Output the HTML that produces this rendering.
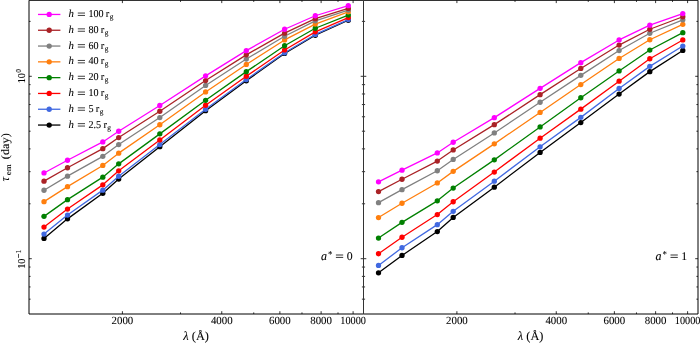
<!DOCTYPE html><html><head><meta charset="utf-8"><style>
html,body{margin:0;padding:0;background:#fff;width:700px;height:343px;overflow:hidden}
svg{display:block;will-change:transform}
text{font-family:"Liberation Serif",serif;fill:#000;stroke:#000;stroke-width:0.08px;text-rendering:geometricPrecision}
.tl{font-size:10.5px}
.xl{font-size:11.5px}
.it{font-style:italic}
.lg{font-size:11px}
</style></head><body>
<svg width="700" height="343" viewBox="0 0 700 343">
<rect width="700" height="343" fill="#fff"/>
<path d="M44 238.45 L67.5 218.85 L102.8 193.25 L118.7 179.05 L159.8 146.65 L205.6 110.65 L246.3 80.75 L284.6 53.45 L315.3 35.25 L348.3 20.25" fill="none" stroke="#000000" stroke-width="1.3" stroke-linejoin="round"/>
<circle cx="44" cy="238.45" r="2.65" fill="#000000"/>
<circle cx="67.5" cy="218.85" r="2.65" fill="#000000"/>
<circle cx="102.8" cy="193.25" r="2.65" fill="#000000"/>
<circle cx="118.7" cy="179.05" r="2.65" fill="#000000"/>
<circle cx="159.8" cy="146.65" r="2.65" fill="#000000"/>
<circle cx="205.6" cy="110.65" r="2.65" fill="#000000"/>
<circle cx="246.3" cy="80.75" r="2.65" fill="#000000"/>
<circle cx="284.6" cy="53.45" r="2.65" fill="#000000"/>
<circle cx="315.3" cy="35.25" r="2.65" fill="#000000"/>
<circle cx="348.3" cy="20.25" r="2.65" fill="#000000"/>
<path d="M44 234.05 L67.5 215.05 L102.8 190.15 L118.7 176.25 L159.8 144.55 L205.6 109.25 L246.3 79.55 L284.6 52.75 L315.3 34.45 L348.3 19.55" fill="none" stroke="#4169e1" stroke-width="1.3" stroke-linejoin="round"/>
<circle cx="44" cy="234.05" r="2.65" fill="#4169e1"/>
<circle cx="67.5" cy="215.05" r="2.65" fill="#4169e1"/>
<circle cx="102.8" cy="190.15" r="2.65" fill="#4169e1"/>
<circle cx="118.7" cy="176.25" r="2.65" fill="#4169e1"/>
<circle cx="159.8" cy="144.55" r="2.65" fill="#4169e1"/>
<circle cx="205.6" cy="109.25" r="2.65" fill="#4169e1"/>
<circle cx="246.3" cy="79.55" r="2.65" fill="#4169e1"/>
<circle cx="284.6" cy="52.75" r="2.65" fill="#4169e1"/>
<circle cx="315.3" cy="34.45" r="2.65" fill="#4169e1"/>
<circle cx="348.3" cy="19.55" r="2.65" fill="#4169e1"/>
<path d="M44 227.05 L67.5 209.05 L102.8 184.85 L118.7 170.85 L159.8 139.95 L205.6 105.25 L246.3 76.25 L284.6 49.95 L315.3 31.85 L348.3 17.55" fill="none" stroke="#ff0000" stroke-width="1.3" stroke-linejoin="round"/>
<circle cx="44" cy="227.05" r="2.65" fill="#ff0000"/>
<circle cx="67.5" cy="209.05" r="2.65" fill="#ff0000"/>
<circle cx="102.8" cy="184.85" r="2.65" fill="#ff0000"/>
<circle cx="118.7" cy="170.85" r="2.65" fill="#ff0000"/>
<circle cx="159.8" cy="139.95" r="2.65" fill="#ff0000"/>
<circle cx="205.6" cy="105.25" r="2.65" fill="#ff0000"/>
<circle cx="246.3" cy="76.25" r="2.65" fill="#ff0000"/>
<circle cx="284.6" cy="49.95" r="2.65" fill="#ff0000"/>
<circle cx="315.3" cy="31.85" r="2.65" fill="#ff0000"/>
<circle cx="348.3" cy="17.55" r="2.65" fill="#ff0000"/>
<path d="M44 216.35 L67.5 199.65 L102.8 177.15 L118.7 163.85 L159.8 133.85 L205.6 100.35 L246.3 71.65 L284.6 45.75 L315.3 28.25 L348.3 15.05" fill="none" stroke="#008000" stroke-width="1.3" stroke-linejoin="round"/>
<circle cx="44" cy="216.35" r="2.65" fill="#008000"/>
<circle cx="67.5" cy="199.65" r="2.65" fill="#008000"/>
<circle cx="102.8" cy="177.15" r="2.65" fill="#008000"/>
<circle cx="118.7" cy="163.85" r="2.65" fill="#008000"/>
<circle cx="159.8" cy="133.85" r="2.65" fill="#008000"/>
<circle cx="205.6" cy="100.35" r="2.65" fill="#008000"/>
<circle cx="246.3" cy="71.65" r="2.65" fill="#008000"/>
<circle cx="284.6" cy="45.75" r="2.65" fill="#008000"/>
<circle cx="315.3" cy="28.25" r="2.65" fill="#008000"/>
<circle cx="348.3" cy="15.05" r="2.65" fill="#008000"/>
<path d="M44 201.65 L67.5 186.65 L102.8 165.45 L118.7 153.15 L159.8 124.75 L205.6 91.95 L246.3 64.45 L284.6 39.95 L315.3 24.05 L348.3 11.85" fill="none" stroke="#ff7f0e" stroke-width="1.3" stroke-linejoin="round"/>
<circle cx="44" cy="201.65" r="2.65" fill="#ff7f0e"/>
<circle cx="67.5" cy="186.65" r="2.65" fill="#ff7f0e"/>
<circle cx="102.8" cy="165.45" r="2.65" fill="#ff7f0e"/>
<circle cx="118.7" cy="153.15" r="2.65" fill="#ff7f0e"/>
<circle cx="159.8" cy="124.75" r="2.65" fill="#ff7f0e"/>
<circle cx="205.6" cy="91.95" r="2.65" fill="#ff7f0e"/>
<circle cx="246.3" cy="64.45" r="2.65" fill="#ff7f0e"/>
<circle cx="284.6" cy="39.95" r="2.65" fill="#ff7f0e"/>
<circle cx="315.3" cy="24.05" r="2.65" fill="#ff7f0e"/>
<circle cx="348.3" cy="11.85" r="2.65" fill="#ff7f0e"/>
<path d="M44 190.25 L67.5 176.15 L102.8 156.35 L118.7 144.55 L159.8 117.55 L205.6 85.45 L246.3 59.05 L284.6 36.25 L315.3 20.85 L348.3 10.05" fill="none" stroke="#808080" stroke-width="1.3" stroke-linejoin="round"/>
<circle cx="44" cy="190.25" r="2.65" fill="#808080"/>
<circle cx="67.5" cy="176.15" r="2.65" fill="#808080"/>
<circle cx="102.8" cy="156.35" r="2.65" fill="#808080"/>
<circle cx="118.7" cy="144.55" r="2.65" fill="#808080"/>
<circle cx="159.8" cy="117.55" r="2.65" fill="#808080"/>
<circle cx="205.6" cy="85.45" r="2.65" fill="#808080"/>
<circle cx="246.3" cy="59.05" r="2.65" fill="#808080"/>
<circle cx="284.6" cy="36.25" r="2.65" fill="#808080"/>
<circle cx="315.3" cy="20.85" r="2.65" fill="#808080"/>
<circle cx="348.3" cy="10.05" r="2.65" fill="#808080"/>
<path d="M44 181.15 L67.5 167.75 L102.8 148.65 L118.7 137.55 L159.8 111.25 L205.6 80.55 L246.3 54.85 L284.6 33.15 L315.3 18.65 L348.3 8.45" fill="none" stroke="#aa2226" stroke-width="1.3" stroke-linejoin="round"/>
<circle cx="44" cy="181.15" r="2.65" fill="#aa2226"/>
<circle cx="67.5" cy="167.75" r="2.65" fill="#aa2226"/>
<circle cx="102.8" cy="148.65" r="2.65" fill="#aa2226"/>
<circle cx="118.7" cy="137.55" r="2.65" fill="#aa2226"/>
<circle cx="159.8" cy="111.25" r="2.65" fill="#aa2226"/>
<circle cx="205.6" cy="80.55" r="2.65" fill="#aa2226"/>
<circle cx="246.3" cy="54.85" r="2.65" fill="#aa2226"/>
<circle cx="284.6" cy="33.15" r="2.65" fill="#aa2226"/>
<circle cx="315.3" cy="18.65" r="2.65" fill="#aa2226"/>
<circle cx="348.3" cy="8.45" r="2.65" fill="#aa2226"/>
<path d="M44 172.95 L67.5 160.25 L102.8 141.95 L118.7 131.25 L159.8 105.45 L205.6 75.85 L246.3 50.65 L284.6 29.25 L315.3 15.75 L348.3 5.65" fill="none" stroke="#ff00ff" stroke-width="1.3" stroke-linejoin="round"/>
<circle cx="44" cy="172.95" r="2.65" fill="#ff00ff"/>
<circle cx="67.5" cy="160.25" r="2.65" fill="#ff00ff"/>
<circle cx="102.8" cy="141.95" r="2.65" fill="#ff00ff"/>
<circle cx="118.7" cy="131.25" r="2.65" fill="#ff00ff"/>
<circle cx="159.8" cy="105.45" r="2.65" fill="#ff00ff"/>
<circle cx="205.6" cy="75.85" r="2.65" fill="#ff00ff"/>
<circle cx="246.3" cy="50.65" r="2.65" fill="#ff00ff"/>
<circle cx="284.6" cy="29.25" r="2.65" fill="#ff00ff"/>
<circle cx="315.3" cy="15.75" r="2.65" fill="#ff00ff"/>
<circle cx="348.3" cy="5.65" r="2.65" fill="#ff00ff"/>
<path d="M122.4 314 v-2.8 M122.4 0.3 v2.8 M221.76 314 v-2.8 M221.76 0.3 v2.8 M279.88 314 v-2.8 M279.88 0.3 v2.8 M321.11 314 v-2.8 M321.11 0.3 v2.8 M353.1 314 v-2.8 M353.1 0.3 v2.8 M180.52 314 v-1.6 M180.52 0.3 v1.6 M253.74 314 v-1.6 M253.74 0.3 v1.6 M301.97 314 v-1.6 M301.97 0.3 v1.6 M338 314 v-1.6 M338 0.3 v1.6 M29 76.3 h2.8 M363.5 76.3 h-2.8 M29 258.7 h2.8 M363.5 258.7 h-2.8 M29 21.39 h1.6 M363.5 21.39 h-1.6 M29 84.65 h1.6 M363.5 84.65 h-1.6 M29 93.98 h1.6 M363.5 93.98 h-1.6 M29 104.55 h1.6 M363.5 104.55 h-1.6 M29 116.77 h1.6 M363.5 116.77 h-1.6 M29 131.21 h1.6 M363.5 131.21 h-1.6 M29 148.88 h1.6 M363.5 148.88 h-1.6 M29 171.67 h1.6 M363.5 171.67 h-1.6 M29 203.79 h1.6 M363.5 203.79 h-1.6 M29 267.05 h1.6 M363.5 267.05 h-1.6 M29 276.38 h1.6 M363.5 276.38 h-1.6 M29 286.95 h1.6 M363.5 286.95 h-1.6 M29 299.17 h1.6 M363.5 299.17 h-1.6" stroke="#000" stroke-width="0.8" fill="none"/>
<path d="M29 0.3 H363.5 M29 314 H363.5" stroke="#000" stroke-width="1.0" fill="none"/>
<path d="M29 0.3 V314" stroke="#000" stroke-width="1.0"/>
<text x="111.55" y="324.2" font-size="11" textLength="21.7" lengthAdjust="spacingAndGlyphs">2000</text>
<text x="210.91" y="324.2" font-size="11" textLength="21.7" lengthAdjust="spacingAndGlyphs">4000</text>
<text x="269.03" y="324.2" font-size="11" textLength="21.7" lengthAdjust="spacingAndGlyphs">6000</text>
<text x="310.26" y="324.2" font-size="11" textLength="21.7" lengthAdjust="spacingAndGlyphs">8000</text>
<text x="340.3" y="324.2" font-size="11" textLength="25.6" lengthAdjust="spacingAndGlyphs">10000</text>
<text x="183.35" y="340.2" font-size="12.3" textLength="25.6" lengthAdjust="spacingAndGlyphs"><tspan class="it">&#955;</tspan> (&#197;)</text>
<path d="M378.5 272.85 L402 255.45 L437.3 231.55 L453.2 217.45 L494.3 187.15 L540.1 152.45 L580.8 122.55 L619.1 94.05 L649.8 71.65 L682.8 50.45" fill="none" stroke="#000000" stroke-width="1.3" stroke-linejoin="round"/>
<circle cx="378.5" cy="272.85" r="2.65" fill="#000000"/>
<circle cx="402" cy="255.45" r="2.65" fill="#000000"/>
<circle cx="437.3" cy="231.55" r="2.65" fill="#000000"/>
<circle cx="453.2" cy="217.45" r="2.65" fill="#000000"/>
<circle cx="494.3" cy="187.15" r="2.65" fill="#000000"/>
<circle cx="540.1" cy="152.45" r="2.65" fill="#000000"/>
<circle cx="580.8" cy="122.55" r="2.65" fill="#000000"/>
<circle cx="619.1" cy="94.05" r="2.65" fill="#000000"/>
<circle cx="649.8" cy="71.65" r="2.65" fill="#000000"/>
<circle cx="682.8" cy="50.45" r="2.65" fill="#000000"/>
<path d="M378.5 265.45 L402 247.75 L437.3 224.65 L453.2 211.35 L494.3 181.15 L540.1 146.85 L580.8 117.35 L619.1 88.45 L649.8 66.35 L682.8 46.05" fill="none" stroke="#4169e1" stroke-width="1.3" stroke-linejoin="round"/>
<circle cx="378.5" cy="265.45" r="2.65" fill="#4169e1"/>
<circle cx="402" cy="247.75" r="2.65" fill="#4169e1"/>
<circle cx="437.3" cy="224.65" r="2.65" fill="#4169e1"/>
<circle cx="453.2" cy="211.35" r="2.65" fill="#4169e1"/>
<circle cx="494.3" cy="181.15" r="2.65" fill="#4169e1"/>
<circle cx="540.1" cy="146.85" r="2.65" fill="#4169e1"/>
<circle cx="580.8" cy="117.35" r="2.65" fill="#4169e1"/>
<circle cx="619.1" cy="88.45" r="2.65" fill="#4169e1"/>
<circle cx="649.8" cy="66.35" r="2.65" fill="#4169e1"/>
<circle cx="682.8" cy="46.05" r="2.65" fill="#4169e1"/>
<path d="M378.5 253.75 L402 237.25 L437.3 214.55 L453.2 201.75 L494.3 172.05 L540.1 138.15 L580.8 109.15 L619.1 81.15 L649.8 58.75 L682.8 39.95" fill="none" stroke="#ff0000" stroke-width="1.3" stroke-linejoin="round"/>
<circle cx="378.5" cy="253.75" r="2.65" fill="#ff0000"/>
<circle cx="402" cy="237.25" r="2.65" fill="#ff0000"/>
<circle cx="437.3" cy="214.55" r="2.65" fill="#ff0000"/>
<circle cx="453.2" cy="201.75" r="2.65" fill="#ff0000"/>
<circle cx="494.3" cy="172.05" r="2.65" fill="#ff0000"/>
<circle cx="540.1" cy="138.15" r="2.65" fill="#ff0000"/>
<circle cx="580.8" cy="109.15" r="2.65" fill="#ff0000"/>
<circle cx="619.1" cy="81.15" r="2.65" fill="#ff0000"/>
<circle cx="649.8" cy="58.75" r="2.65" fill="#ff0000"/>
<circle cx="682.8" cy="39.95" r="2.65" fill="#ff0000"/>
<path d="M378.5 238.05 L402 222.35 L437.3 200.85 L453.2 188.05 L494.3 159.85 L540.1 126.95 L580.8 97.75 L619.1 70.95 L649.8 50.05 L682.8 32.65" fill="none" stroke="#008000" stroke-width="1.3" stroke-linejoin="round"/>
<circle cx="378.5" cy="238.05" r="2.65" fill="#008000"/>
<circle cx="402" cy="222.35" r="2.65" fill="#008000"/>
<circle cx="437.3" cy="200.85" r="2.65" fill="#008000"/>
<circle cx="453.2" cy="188.05" r="2.65" fill="#008000"/>
<circle cx="494.3" cy="159.85" r="2.65" fill="#008000"/>
<circle cx="540.1" cy="126.95" r="2.65" fill="#008000"/>
<circle cx="580.8" cy="97.75" r="2.65" fill="#008000"/>
<circle cx="619.1" cy="70.95" r="2.65" fill="#008000"/>
<circle cx="649.8" cy="50.05" r="2.65" fill="#008000"/>
<circle cx="682.8" cy="32.65" r="2.65" fill="#008000"/>
<path d="M378.5 217.55 L402 203.25 L437.3 182.95 L453.2 171.35 L494.3 143.85 L540.1 112.45 L580.8 84.55 L619.1 58.45 L649.8 39.75 L682.8 24.35" fill="none" stroke="#ff7f0e" stroke-width="1.3" stroke-linejoin="round"/>
<circle cx="378.5" cy="217.55" r="2.65" fill="#ff7f0e"/>
<circle cx="402" cy="203.25" r="2.65" fill="#ff7f0e"/>
<circle cx="437.3" cy="182.95" r="2.65" fill="#ff7f0e"/>
<circle cx="453.2" cy="171.35" r="2.65" fill="#ff7f0e"/>
<circle cx="494.3" cy="143.85" r="2.65" fill="#ff7f0e"/>
<circle cx="540.1" cy="112.45" r="2.65" fill="#ff7f0e"/>
<circle cx="580.8" cy="84.55" r="2.65" fill="#ff7f0e"/>
<circle cx="619.1" cy="58.45" r="2.65" fill="#ff7f0e"/>
<circle cx="649.8" cy="39.75" r="2.65" fill="#ff7f0e"/>
<circle cx="682.8" cy="24.35" r="2.65" fill="#ff7f0e"/>
<path d="M378.5 202.65 L402 189.65 L437.3 170.75 L453.2 159.45 L494.3 132.95 L540.1 102.25 L580.8 75.35 L619.1 50.55 L649.8 33.25 L682.8 19.85" fill="none" stroke="#808080" stroke-width="1.3" stroke-linejoin="round"/>
<circle cx="378.5" cy="202.65" r="2.65" fill="#808080"/>
<circle cx="402" cy="189.65" r="2.65" fill="#808080"/>
<circle cx="437.3" cy="170.75" r="2.65" fill="#808080"/>
<circle cx="453.2" cy="159.45" r="2.65" fill="#808080"/>
<circle cx="494.3" cy="132.95" r="2.65" fill="#808080"/>
<circle cx="540.1" cy="102.25" r="2.65" fill="#808080"/>
<circle cx="580.8" cy="75.35" r="2.65" fill="#808080"/>
<circle cx="619.1" cy="50.55" r="2.65" fill="#808080"/>
<circle cx="649.8" cy="33.25" r="2.65" fill="#808080"/>
<circle cx="682.8" cy="19.85" r="2.65" fill="#808080"/>
<path d="M378.5 191.55 L402 179.25 L437.3 161.05 L453.2 149.95 L494.3 124.65 L540.1 94.65 L580.8 68.45 L619.1 45.05 L649.8 29.25 L682.8 16.75" fill="none" stroke="#aa2226" stroke-width="1.3" stroke-linejoin="round"/>
<circle cx="378.5" cy="191.55" r="2.65" fill="#aa2226"/>
<circle cx="402" cy="179.25" r="2.65" fill="#aa2226"/>
<circle cx="437.3" cy="161.05" r="2.65" fill="#aa2226"/>
<circle cx="453.2" cy="149.95" r="2.65" fill="#aa2226"/>
<circle cx="494.3" cy="124.65" r="2.65" fill="#aa2226"/>
<circle cx="540.1" cy="94.65" r="2.65" fill="#aa2226"/>
<circle cx="580.8" cy="68.45" r="2.65" fill="#aa2226"/>
<circle cx="619.1" cy="45.05" r="2.65" fill="#aa2226"/>
<circle cx="649.8" cy="29.25" r="2.65" fill="#aa2226"/>
<circle cx="682.8" cy="16.75" r="2.65" fill="#aa2226"/>
<path d="M378.5 181.85 L402 170.15 L437.3 152.95 L453.2 142.25 L494.3 117.65 L540.1 88.35 L580.8 62.65 L619.1 39.95 L649.8 25.15 L682.8 13.55" fill="none" stroke="#ff00ff" stroke-width="1.3" stroke-linejoin="round"/>
<circle cx="378.5" cy="181.85" r="2.65" fill="#ff00ff"/>
<circle cx="402" cy="170.15" r="2.65" fill="#ff00ff"/>
<circle cx="437.3" cy="152.95" r="2.65" fill="#ff00ff"/>
<circle cx="453.2" cy="142.25" r="2.65" fill="#ff00ff"/>
<circle cx="494.3" cy="117.65" r="2.65" fill="#ff00ff"/>
<circle cx="540.1" cy="88.35" r="2.65" fill="#ff00ff"/>
<circle cx="580.8" cy="62.65" r="2.65" fill="#ff00ff"/>
<circle cx="619.1" cy="39.95" r="2.65" fill="#ff00ff"/>
<circle cx="649.8" cy="25.15" r="2.65" fill="#ff00ff"/>
<circle cx="682.8" cy="13.55" r="2.65" fill="#ff00ff"/>
<path d="M456.9 314 v-2.8 M456.9 0.3 v2.8 M556.26 314 v-2.8 M556.26 0.3 v2.8 M614.38 314 v-2.8 M614.38 0.3 v2.8 M655.61 314 v-2.8 M655.61 0.3 v2.8 M687.6 314 v-2.8 M687.6 0.3 v2.8 M515.02 314 v-1.6 M515.02 0.3 v1.6 M588.24 314 v-1.6 M588.24 0.3 v1.6 M636.47 314 v-1.6 M636.47 0.3 v1.6 M672.5 314 v-1.6 M672.5 0.3 v1.6 M363.5 76.3 h2.8 M698 76.3 h-2.8 M363.5 258.7 h2.8 M698 258.7 h-2.8 M363.5 21.39 h1.6 M698 21.39 h-1.6 M363.5 84.65 h1.6 M698 84.65 h-1.6 M363.5 93.98 h1.6 M698 93.98 h-1.6 M363.5 104.55 h1.6 M698 104.55 h-1.6 M363.5 116.77 h1.6 M698 116.77 h-1.6 M363.5 131.21 h1.6 M698 131.21 h-1.6 M363.5 148.88 h1.6 M698 148.88 h-1.6 M363.5 171.67 h1.6 M698 171.67 h-1.6 M363.5 203.79 h1.6 M698 203.79 h-1.6 M363.5 267.05 h1.6 M698 267.05 h-1.6 M363.5 276.38 h1.6 M698 276.38 h-1.6 M363.5 286.95 h1.6 M698 286.95 h-1.6 M363.5 299.17 h1.6 M698 299.17 h-1.6" stroke="#000" stroke-width="0.8" fill="none"/>
<path d="M363.5 0.3 H698 M363.5 314 H698" stroke="#000" stroke-width="1.0" fill="none"/>
<path d="M698 0.3 V314" stroke="#000" stroke-width="1.0"/>
<path d="M363.5 0.3 V314" stroke="#333" stroke-width="1"/>
<text x="446.05" y="324.2" font-size="11" textLength="21.7" lengthAdjust="spacingAndGlyphs">2000</text>
<text x="545.41" y="324.2" font-size="11" textLength="21.7" lengthAdjust="spacingAndGlyphs">4000</text>
<text x="603.53" y="324.2" font-size="11" textLength="21.7" lengthAdjust="spacingAndGlyphs">6000</text>
<text x="644.76" y="324.2" font-size="11" textLength="21.7" lengthAdjust="spacingAndGlyphs">8000</text>
<text x="674.8" y="324.2" font-size="11" textLength="25.6" lengthAdjust="spacingAndGlyphs">10000</text>
<text x="517.85" y="340.2" font-size="12.3" textLength="25.6" lengthAdjust="spacingAndGlyphs"><tspan class="it">&#955;</tspan> (&#197;)</text>
<g transform="translate(24.9,83.3) rotate(-90)"><text x="0" y="0" font-size="10.5" textLength="10.2" lengthAdjust="spacingAndGlyphs">10</text><text x="10.6" y="-4.3" font-size="7.6">0</text></g>
<g transform="translate(24.9,268.8) rotate(-90)"><text x="0" y="0" font-size="10.5" textLength="10.2" lengthAdjust="spacingAndGlyphs">10</text><path d="M10.9 -6.4 h4" stroke="#000" stroke-width="0.7"/><text x="15.3" y="-4.3" font-size="7.6">1</text></g>
<g transform="translate(9.3,181.8) rotate(-90)"><text x="0.3" y="0" font-size="13" class="it" style="stroke:none">&#964;</text><text x="6.6" y="1.6" font-size="8.2" textLength="11" lengthAdjust="spacingAndGlyphs">em</text><text x="22.6" y="0" font-size="11.5" textLength="26" lengthAdjust="spacingAndGlyphs">(day)</text></g>
<text x="321" y="259.6" font-size="12" class="it">a</text><text x="327.9" y="257" font-size="9">*</text><path d="M335.9 255 h7.3 M335.9 257.4 h7.3" stroke="#000" stroke-width="0.8"/><text x="346.7" y="259.6" font-size="11.8">0</text>
<text x="655.6" y="259.6" font-size="12" class="it">a</text><text x="662.5" y="257" font-size="9">*</text><path d="M670.5 255 h7.3 M670.5 257.4 h7.3" stroke="#000" stroke-width="0.8"/><text x="681.3" y="259.6" font-size="11.8">1</text>
<path d="M38 14.45 H60.4" stroke="#ff00ff" stroke-width="1.3"/>
<circle cx="49.2" cy="14.45" r="2.65" fill="#ff00ff"/>
<text x="68.6" y="16.95" font-size="10.8" class="it" stroke="#000" stroke-width="0.15">h</text>
<path d="M77.8 13.05 h7.2 M77.8 15.45 h7.2" stroke="#000" stroke-width="0.75"/>
<text x="88.5" y="16.95" font-size="10.6" textLength="15.15" lengthAdjust="spacingAndGlyphs">100</text>
<text x="105.85" y="16.95" font-size="10.4">r</text>
<text x="109.75" y="18.95" font-size="7.4">g</text>
<path d="M38 30.25 H60.4" stroke="#aa2226" stroke-width="1.3"/>
<circle cx="49.2" cy="30.25" r="2.65" fill="#aa2226"/>
<text x="68.6" y="32.75" font-size="10.8" class="it" stroke="#000" stroke-width="0.15">h</text>
<path d="M77.8 28.85 h7.2 M77.8 31.25 h7.2" stroke="#000" stroke-width="0.75"/>
<text x="88.5" y="32.75" font-size="10.6" textLength="10.1" lengthAdjust="spacingAndGlyphs">80</text>
<text x="100.8" y="32.75" font-size="10.4">r</text>
<text x="104.7" y="34.75" font-size="7.4">g</text>
<path d="M38 46.05 H60.4" stroke="#808080" stroke-width="1.3"/>
<circle cx="49.2" cy="46.05" r="2.65" fill="#808080"/>
<text x="68.6" y="48.55" font-size="10.8" class="it" stroke="#000" stroke-width="0.15">h</text>
<path d="M77.8 44.65 h7.2 M77.8 47.05 h7.2" stroke="#000" stroke-width="0.75"/>
<text x="88.5" y="48.55" font-size="10.6" textLength="10.1" lengthAdjust="spacingAndGlyphs">60</text>
<text x="100.8" y="48.55" font-size="10.4">r</text>
<text x="104.7" y="50.55" font-size="7.4">g</text>
<path d="M38 61.85 H60.4" stroke="#ff7f0e" stroke-width="1.3"/>
<circle cx="49.2" cy="61.85" r="2.65" fill="#ff7f0e"/>
<text x="68.6" y="64.35" font-size="10.8" class="it" stroke="#000" stroke-width="0.15">h</text>
<path d="M77.8 60.45 h7.2 M77.8 62.85 h7.2" stroke="#000" stroke-width="0.75"/>
<text x="88.5" y="64.35" font-size="10.6" textLength="10.1" lengthAdjust="spacingAndGlyphs">40</text>
<text x="100.8" y="64.35" font-size="10.4">r</text>
<text x="104.7" y="66.35" font-size="7.4">g</text>
<path d="M38 77.65 H60.4" stroke="#008000" stroke-width="1.3"/>
<circle cx="49.2" cy="77.65" r="2.65" fill="#008000"/>
<text x="68.6" y="80.15" font-size="10.8" class="it" stroke="#000" stroke-width="0.15">h</text>
<path d="M77.8 76.25 h7.2 M77.8 78.65 h7.2" stroke="#000" stroke-width="0.75"/>
<text x="88.5" y="80.15" font-size="10.6" textLength="10.1" lengthAdjust="spacingAndGlyphs">20</text>
<text x="100.8" y="80.15" font-size="10.4">r</text>
<text x="104.7" y="82.15" font-size="7.4">g</text>
<path d="M38 93.45 H60.4" stroke="#ff0000" stroke-width="1.3"/>
<circle cx="49.2" cy="93.45" r="2.65" fill="#ff0000"/>
<text x="68.6" y="95.95" font-size="10.8" class="it" stroke="#000" stroke-width="0.15">h</text>
<path d="M77.8 92.05 h7.2 M77.8 94.45 h7.2" stroke="#000" stroke-width="0.75"/>
<text x="88.5" y="95.95" font-size="10.6" textLength="10.1" lengthAdjust="spacingAndGlyphs">10</text>
<text x="100.8" y="95.95" font-size="10.4">r</text>
<text x="104.7" y="97.95" font-size="7.4">g</text>
<path d="M38 109.25 H60.4" stroke="#4169e1" stroke-width="1.3"/>
<circle cx="49.2" cy="109.25" r="2.65" fill="#4169e1"/>
<text x="68.6" y="111.75" font-size="10.8" class="it" stroke="#000" stroke-width="0.15">h</text>
<path d="M77.8 107.85 h7.2 M77.8 110.25 h7.2" stroke="#000" stroke-width="0.75"/>
<text x="88.5" y="111.75" font-size="10.6" textLength="5.05" lengthAdjust="spacingAndGlyphs">5</text>
<text x="95.75" y="111.75" font-size="10.4">r</text>
<text x="99.65" y="113.75" font-size="7.4">g</text>
<path d="M38 125.05 H60.4" stroke="#000000" stroke-width="1.3"/>
<circle cx="49.2" cy="125.05" r="2.65" fill="#000000"/>
<text x="68.6" y="127.55" font-size="10.8" class="it" stroke="#000" stroke-width="0.15">h</text>
<path d="M77.8 123.65 h7.2 M77.8 126.05 h7.2" stroke="#000" stroke-width="0.75"/>
<text x="88.5" y="127.55" font-size="10.6" textLength="12.7" lengthAdjust="spacingAndGlyphs">2.5</text>
<text x="103.4" y="127.55" font-size="10.4">r</text>
<text x="107.3" y="129.55" font-size="7.4">g</text>
</svg></body></html>
